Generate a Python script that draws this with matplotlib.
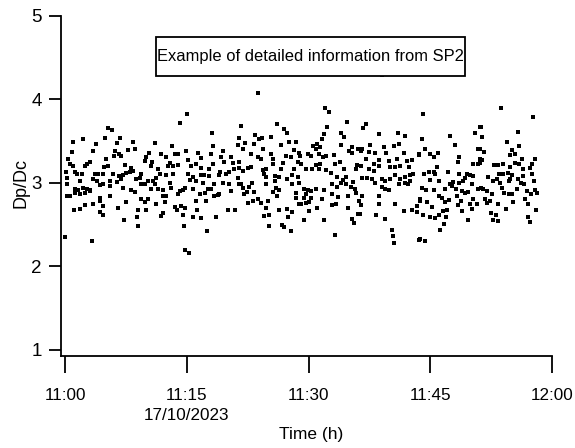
import matplotlib
matplotlib.use("Agg")
import matplotlib.pyplot as plt
from matplotlib.patches import Rectangle

plt.rcParams['font.family'] = ['Liberation Sans', 'DejaVu Sans']

# (time in minutes after 11:00, Dp/Dc), in time blocks
pts_00_07 = [(5.23,3.66),(5.81,3.63),(0.94,3.49),(2.17,3.53),(4.91,3.54),(6.75,3.54),(6.42,3.48),(3.76,3.47),
    (3.48,3.38),(0.82,3.37),(6.13,3.38),(6.66,3.34),(6.05,3.32),(0.41,3.29),(5.03,3.29),(3.07,3.25),(2.74,3.23),
    (2.45,3.20),(1.02,3.20),(0.61,3.22),(4.78,3.19),(5.32,3.20),(0.12,3.13),(1.23,3.13),(1.51,3.10),(2.04,3.11),
    (3.68,3.10),(4.09,3.11),(4.70,3.10),(5.93,3.11),(6.66,3.08),(0.20,3.06),(1.84,3.02),(3.48,3.05),(3.88,3.02),
    (5.52,3.02),(6.34,3.01),(0.29,2.98),(1.23,2.92),(1.64,2.91),(2.25,2.94),(2.66,2.93),(3.07,2.91),(4.29,2.97),
    (4.70,2.98),(5.52,2.96),(0.20,2.84),(0.61,2.84),(1.23,2.88),(1.84,2.86),(2.45,2.88),(3.07,2.90),(4.29,2.82),
    (5.52,2.84),(4.29,2.78),(3.48,2.74),(4.70,2.72),(2.45,2.73),(1.84,2.69),(1.10,2.68),(6.54,2.70),(4.29,2.65),
    (4.62,2.62),(0.00,2.35),(3.27,2.30)]
pts_07_14 = [(14.11,3.71),(8.38,3.49),(11.04,3.48),(13.21,3.44),(7.77,3.39),(8.58,3.40),(6.95,3.32),(10.34,3.36),
    (10.02,3.31),(9.81,3.26),(10.75,3.25),(11.86,3.34),(12.47,3.31),(13.49,3.34),(13.90,3.35),(12.88,3.24),
    (13.29,3.20),(12.68,3.20),(13.90,3.21),(7.36,3.21),(8.17,3.18),(10.62,3.20),(11.45,3.16),(7.56,3.12),
    (7.97,3.13),(8.38,3.14),(7.15,3.09),(9.40,3.10),(11.66,3.11),(12.47,3.09),(13.29,3.10),(6.95,3.04),
    (8.79,3.04),(9.20,3.06),(10.23,3.02),(10.83,3.02),(11.25,3.06),(12.88,3.00),(9.40,2.98),(9.81,2.99),
    (11.04,2.98),(7.15,2.94),(8.17,2.91),(8.58,2.89),(10.62,2.92),(11.45,2.92),(12.06,2.91),(13.08,2.94),
    (14.11,2.90),(12.06,2.84),(12.47,2.84),(13.90,2.86),(9.40,2.80),(9.81,2.77),(10.23,2.80),(7.56,2.77),
    (11.25,2.75),(12.27,2.77),(8.99,2.68),(9.93,2.67),(12.06,2.64),(11.86,2.60),(13.49,2.71),(13.78,2.67),
    (8.87,2.59),(7.24,2.55),(9.00,2.48)]
pts_14_22 = [(15.00,3.82),(18.11,3.59),(21.67,3.68),(21.46,3.54),(18.19,3.44),(21.26,3.45),(14.92,3.38),
    (19.42,3.38),(16.35,3.36),(17.99,3.34),(20.44,3.31),(19.21,3.31),(16.76,3.30),(15.12,3.27),(16.07,3.23),
    (18.19,3.23),(19.62,3.25),(20.64,3.24),(21.38,3.25),(15.53,3.20),(16.76,3.18),(17.70,3.16),(19.03,3.13),
    (20.13,3.13),(20.77,3.16),(21.38,3.18),(15.12,3.10),(15.74,3.07),(16.76,3.09),(17.05,3.09),(17.78,3.08),
    (19.01,3.09),(19.83,3.10),(15.33,3.03),(16.15,3.02),(16.97,3.00),(18.40,2.99),(19.42,3.00),(20.15,2.98),
    (21.26,3.06),(21.46,2.98),(14.51,2.91),(15.74,2.92),(17.58,2.93),(17.99,2.92),(20.44,2.90),(14.72,2.94),
    (16.56,2.86),(17.29,2.88),(18.40,2.84),(18.81,2.85),(19.01,2.86),(16.07,2.78),(17.37,2.78),(14.31,2.72),
    (14.72,2.70),(16.23,2.68),(20.03,2.67),(20.97,2.67),(14.51,2.62),(15.74,2.59),(16.76,2.58),(18.60,2.59),
    (14.60,2.48),(17.46,2.42),(14.72,2.19),(15.21,2.16)]
pts_22_29 = [(23.71,4.08),(26.04,3.70),(26.98,3.64),(27.39,3.59),(23.43,3.57),(24.24,3.54),(23.92,3.52),
    (25.35,3.55),(22.20,3.48),(23.30,3.46),(26.57,3.45),(27.59,3.49),(28.49,3.49),(24.33,3.40),(21.87,3.40),
    (28.21,3.39),(28.78,3.36),(22.93,3.34),(23.71,3.31),(24.12,3.29),(25.35,3.35),(25.55,3.29),(27.19,3.32),
    (27.80,3.31),(26.78,3.24),(28.74,3.25),(25.55,3.23),(22.49,3.18),(22.89,3.19),(21.95,3.14),(24.33,3.15),
    (24.80,3.16),(26.57,3.16),(28.21,3.16),(24.53,3.10),(24.74,3.07),(25.88,3.08),(26.37,3.07),(27.39,3.05),
    (28.00,3.09),(22.97,3.00),(24.74,2.99),(25.88,3.02),(28.00,2.99),(28.82,3.00),(21.67,2.98),(21.87,2.94),
    (22.61,2.95),(23.30,2.89),(22.36,2.89),(22.08,2.86),(25.96,2.94),(26.29,2.91),(25.66,2.89),(26.04,2.84),
    (28.49,2.88),(22.49,2.76),(23.10,2.78),(23.71,2.80),(24.12,2.76),(24.94,2.78),(28.41,2.82),(28.82,2.74),
    (24.74,2.70),(26.29,2.67),(27.39,2.69),(27.96,2.65),(24.53,2.60),(25.14,2.62),(27.51,2.59),(25.14,2.48),
    (26.69,2.49),(26.98,2.47),(27.80,2.42)]
pts_29_36 = [(32.01,3.89),(32.51,3.85),(34.75,3.73),(32.30,3.67),(33.94,3.60),(34.35,3.55),(31.89,3.58),
    (31.61,3.52),(31.08,3.46),(30.55,3.44),(31.37,3.43),(30.90,3.41),(33.94,3.45),(35.28,3.43),(34.96,3.38),
    (35.37,3.36),(36.10,3.40),(29.86,3.34),(30.27,3.32),(31.29,3.34),(31.78,3.31),(32.18,3.32),(33.12,3.33),
    (28.99,3.32),(29.10,3.22),(31.37,3.23),(30.90,3.21),(33.24,3.22),(33.84,3.25),(29.64,3.16),(30.47,3.16),
    (31.29,3.16),(32.10,3.15),(32.71,3.12),(34.35,3.17),(35.77,3.16),(35.98,3.21),(33.45,3.07),(34.19,3.03),
    (34.55,3.07),(28.74,3.07),(34.02,3.00),(34.63,2.99),(35.45,3.01),(35.24,2.95),(35.65,2.93),(35.86,2.88),
    (32.92,2.98),(33.53,2.95),(29.45,2.92),(29.86,2.91),(30.27,2.90),(30.88,2.93),(31.94,2.91),(32.92,2.87),
    (29.72,2.87),(29.43,2.82),(30.25,2.82),(31.69,2.81),(33.65,2.83),(34.88,2.84),(36.18,2.78),(29.64,2.76),
    (30.04,2.77),(29.03,2.74),(32.91,2.73),(33.33,2.75),(31.07,2.70),(34.87,2.70),(30.04,2.66),(36.10,2.63),
    (35.28,2.57),(29.44,2.55),(31.89,2.55),(35.57,2.52),(33.24,2.37)]
pts_36_44 = [(39.05,4.285),(37.00,3.70),(36.67,3.66),(38.71,3.58),(41.00,3.60),(41.90,3.56),(40.47,3.44),
    (41.17,3.47),(37.61,3.45),(39.25,3.43),(36.59,3.40),(36.39,3.38),(37.41,3.37),(38.22,3.36),(39.53,3.36),
    (41.70,3.36),(43.54,3.34),(37.00,3.29),(38.71,3.27),(39.86,3.26),(40.88,3.28),(42.11,3.26),(42.72,3.27),
    (38.02,3.22),(38.63,3.20),(40.06,3.19),(40.67,3.19),(41.29,3.20),(42.31,3.19),(36.39,3.20),(37.41,3.16),
    (38.02,3.14),(36.59,3.06),(37.20,3.06),(37.82,3.04),(38.22,3.00),(39.04,3.05),(39.37,3.02),(40.06,3.04),
    (40.67,3.09),(41.29,3.04),(41.90,3.07),(42.52,3.09),(42.81,3.11),(39.04,2.95),(39.45,2.93),(39.94,2.91),
    (41.08,2.98),(41.82,3.00),(42.23,2.98),(42.52,3.02),(36.59,2.84),(38.63,2.84),(36.39,2.73),(38.71,2.74),
    (40.67,2.74),(43.75,2.80),(43.34,2.72),(42.72,2.68),(41.70,2.66),(43.34,2.65),(36.27,2.63),(38.31,2.61),
    (39.37,2.57),(40.27,2.43),(40.35,2.36),(40.47,2.28),(43.62,2.32)]
pts_44_51 = [(44.03,3.82),(51.10,3.67),(50.51,3.60),(47.42,3.56),(47.96,3.45),(43.95,3.52),(44.36,3.41),
    (44.97,3.35),(45.38,3.31),(45.91,3.36),(43.62,3.33),(48.53,3.31),(48.37,3.25),(50.29,3.22),(50.91,3.22),
    (50.91,3.40),(51.10,3.29),(45.79,3.19),(44.15,3.11),(44.77,3.13),(45.38,3.13),(45.58,3.10),(47.14,3.13),
    (48.45,3.11),(49.47,3.11),(49.88,3.09),(49.26,3.06),(50.29,3.08),(44.97,3.03),(46.07,3.02),(47.42,2.99),
    (47.83,3.01),(48.45,3.00),(49.06,3.02),(50.08,2.98),(43.95,2.94),(44.44,2.91),(45.38,2.91),(46.81,2.92),
    (47.63,2.96),(48.12,2.93),(48.86,2.90),(49.26,2.88),(49.67,2.89),(50.90,2.93),(46.00,2.84),(46.40,2.82),
    (46.81,2.77),(47.22,2.79),(43.74,2.78),(44.56,2.77),(48.24,2.84),(48.78,2.78),(50.29,2.80),(50.69,2.75),
    (49.88,2.75),(45.18,2.71),(48.37,2.73),(50.08,2.69),(47.01,2.68),(48.94,2.66),(46.49,2.66),(45.99,2.62),
    (44.03,2.61),(44.97,2.59),(45.50,2.58),(46.89,2.59),(49.59,2.55),(46.61,2.51),(46.20,2.43),(43.74,2.33),
    (44.28,2.30)]
pts_51_59 = [(53.68,3.90),(57.65,3.79),(51.23,3.67),(55.72,3.61),(51.39,3.55),(54.37,3.49),(55.93,3.44),
    (51.10,3.40),(51.64,3.37),(54.99,3.39),(54.78,3.33),(55.39,3.34),(56.30,3.29),(57.85,3.29),(51.31,3.27),
    (51.10,3.24),(52.86,3.21),(53.35,3.21),(53.97,3.22),(55.39,3.24),(55.88,3.23),(57.52,3.22),(57.24,3.18),
    (54.78,3.19),(56.42,3.17),(53.44,3.11),(53.97,3.10),(54.50,3.12),(55.07,3.09),(56.42,3.08),(57.44,3.11),
    (52.05,3.07),(52.74,3.02),(53.15,3.04),(54.78,3.04),(53.56,3.00),(54.66,3.02),(55.80,3.04),(56.13,3.00),
    (56.54,2.99),(57.77,3.02),(51.23,2.94),(51.51,2.92),(51.92,2.90),(52.53,2.86),(53.85,2.94),(54.09,2.88),
    (54.66,2.86),(55.07,2.87),(55.60,2.92),(56.83,2.90),(57.36,2.86),(57.93,2.91),(58.13,2.88),(51.72,2.81),
    (52.33,2.78),(51.92,2.76),(55.19,2.77),(56.62,2.80),(57.03,2.75),(53.27,2.75),(54.25,2.69),(58.05,2.67),
    (52.45,2.64),(53.02,2.62),(56.95,2.59),(52.74,2.56),(53.27,2.54),(57.24,2.53)]

blocks = [pts_00_07, pts_07_14, pts_14_22, pts_22_29, pts_29_36, pts_36_44, pts_44_51, pts_51_59]
time_min = [p[0] for b in blocks for p in b]
dp_dc = [p[1] for b in blocks for p in b]

x_ticks = [0, 15, 30, 45, 60]
x_tick_labels = ["11:00", "11:15\n17/10/2023", "11:30", "11:45", "12:00"]
y_ticks = [1, 2, 3, 4, 5]
title = "Example of detailed information from SP2"

W, H = 575, 448
fig = plt.figure(figsize=(W / 100, H / 100), dpi=100)
ax = fig.add_axes([61 / W, 1 - 355.7 / H, 491.3 / W, 340 / H])

ax.plot(time_min, dp_dc, linestyle='none', marker='s', markersize=2.6,
        markeredgewidth=0, color='black', clip_on=False)

ax.set_xlim(-0.5, 60)
ax.set_ylim(0.93, 5)
for s in ['top', 'right']:
    ax.spines[s].set_visible(False)
for s in ['left', 'bottom']:
    ax.spines[s].set_linewidth(1.3)

ax.set_xticks(x_ticks)
ax.set_xticklabels(x_tick_labels, linespacing=1.45)
ax.set_yticks(y_ticks)
ax.set_yticklabels([str(v) for v in y_ticks])
ax.tick_params(axis='x', direction='out', length=12, width=1.3, pad=11, labelsize=12.3)
ax.tick_params(axis='y', direction='out', length=9, width=1.3, pad=5, labelsize=13.5)

ax.set_xlabel("Time (h)", fontsize=12.5, va='center')
ax.xaxis.set_label_coords(0.510, -0.233)
ax.set_ylabel("Dp/Dc", fontsize=13, va='center')
ax.yaxis.set_label_coords(-0.0814, 0.508)

# title box (white, drawn above the data)
fig.patches.append(Rectangle((156 / W, 1 - 76.5 / H), (465 - 156) / W, (76.5 - 37.5) / H,
                             transform=fig.transFigure, facecolor='white', edgecolor='black',
                             linewidth=1.3, zorder=5))
fig.text(310.5 / W, 1 - 57 / H, title, ha='center', va='center', fontsize=11.9, zorder=10)

fig.savefig("out.png", dpi=100)
